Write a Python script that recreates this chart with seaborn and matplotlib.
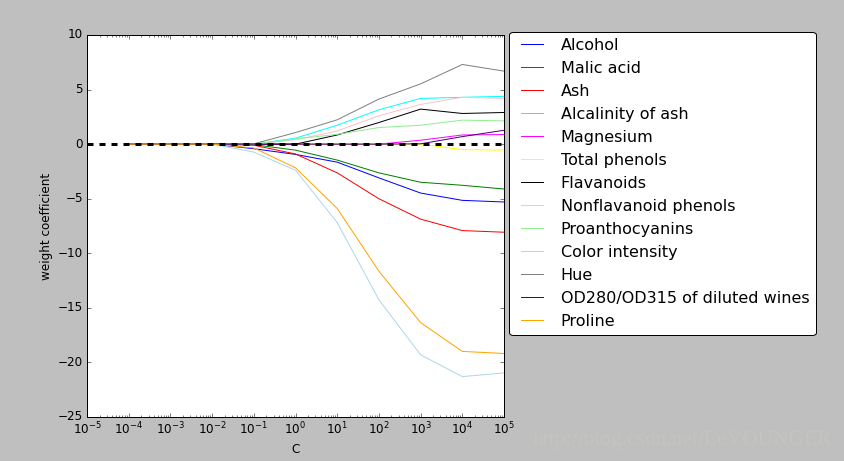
import matplotlib
matplotlib.use('Agg')
import matplotlib.pyplot as plt
import numpy as np
import pandas as pd
import seaborn as sns

# C 的取值 (逆正则化强度)
params = [1e-4, 1e-3, 1e-2, 1e-1, 1e0, 1e1, 1e2, 1e3, 1e4, 1e5]

feature_names = ['Alcohol', 'Malic acid', 'Ash', 'Alcalinity of ash', 'Magnesium',
                 'Total phenols', 'Flavanoids', 'Nonflavanoid phenols',
                 'Proanthocyanins', 'Color intensity', 'Hue',
                 'OD280/OD315 of diluted wines', 'Proline']

# 每个特征在不同 C 下的权重系数
alcohol = [0, 0, 0, -0.42, -0.94, -1.65, -3.09, -4.48, -5.15, -5.3]
malic_acid = [0, 0, 0, -0.05, -0.55, -1.46, -2.63, -3.49, -3.77, -4.11]
ash = [0, 0, 0, -0.1, -0.9, -2.63, -5.0, -6.87, -7.92, -8.07]
alcalinity = [0, 0, 0, 0, 0.55, 1.73, 3.15, 4.19, 4.29, 4.38]
magnesium = [0, 0, 0, 0, 0, 0, 0, 0.36, 0.84, 0.88]
total_phenols = [0, 0, 0, 0, 0, 0, 0, 0, -0.5, -0.54]
flavanoids = [0, 0, 0, 0, 0, 0.84, 1.98, 3.21, 2.81, 2.9]
nonflavanoid = [0, 0, 0, 0, 0.4, 1.21, 2.6, 3.64, 4.29, 4.19]
proantho = [0, 0, 0, 0, 0.47, 0.9, 1.52, 1.73, 2.2, 2.13]
color_int = [0, 0, 0, -0.73, -2.39, -7.18, -14.26, -19.3, -21.3, -20.96]
hue = [0, 0, 0, 0.03, 1.06, 2.23, 4.13, 5.52, 7.3, 6.69]
od280 = [0, 0, 0, 0, 0, 0, 0, 0.03, 0.69, 1.27]
proline = [0, 0, 0, -0.35, -2.17, -5.89, -11.64, -16.35, -18.99, -19.18]

weights = [alcohol, malic_acid, ash, alcalinity, magnesium, total_phenols,
           flavanoids, nonflavanoid, proantho, color_int, hue, od280, proline]

colors = ['blue', 'green', 'red', 'cyan', 'magenta', 'yellow', 'black',
          'pink', 'lightgreen', 'lightblue', 'gray', 'indigo', 'orange']

plt.style.use('classic')

fig = plt.figure(figsize=(844 / 72, 461 / 72), dpi=72)
ax = fig.add_axes([87 / 844, 44 / 461, 417 / 844, 382 / 461])

# 逐个特征画权重路径
for name, w, color in zip(feature_names, weights, colors):
    sns.lineplot(x=params, y=w, color=color, linewidth=1, label=name, ax=ax)
ax.axhline(0, color='black', linestyle='--', linewidth=3)

ax.set_xscale('log')
ax.set_xlim([1e-5, 1e5])
ax.set_ylim([-25, 10])
ax.set_xticks([10.0 ** k for k in range(-5, 6)])
ax.set_ylabel('weight coefficient')
ax.set_xlabel('C')

ax.legend(loc='upper center', bbox_to_anchor=(1.38, 1.03),
          ncol=1, fancybox=True, fontsize=16)

# 水印
fig.text(533 / 844, 1 - 441 / 461, 'http://blog.csdn.net/LeYOUNGER',
         family='Liberation Serif', fontsize=21.5, color='#c5c4bc',
         ha='left', va='center')

fig.savefig('out.png', dpi=72, facecolor=fig.get_facecolor())
